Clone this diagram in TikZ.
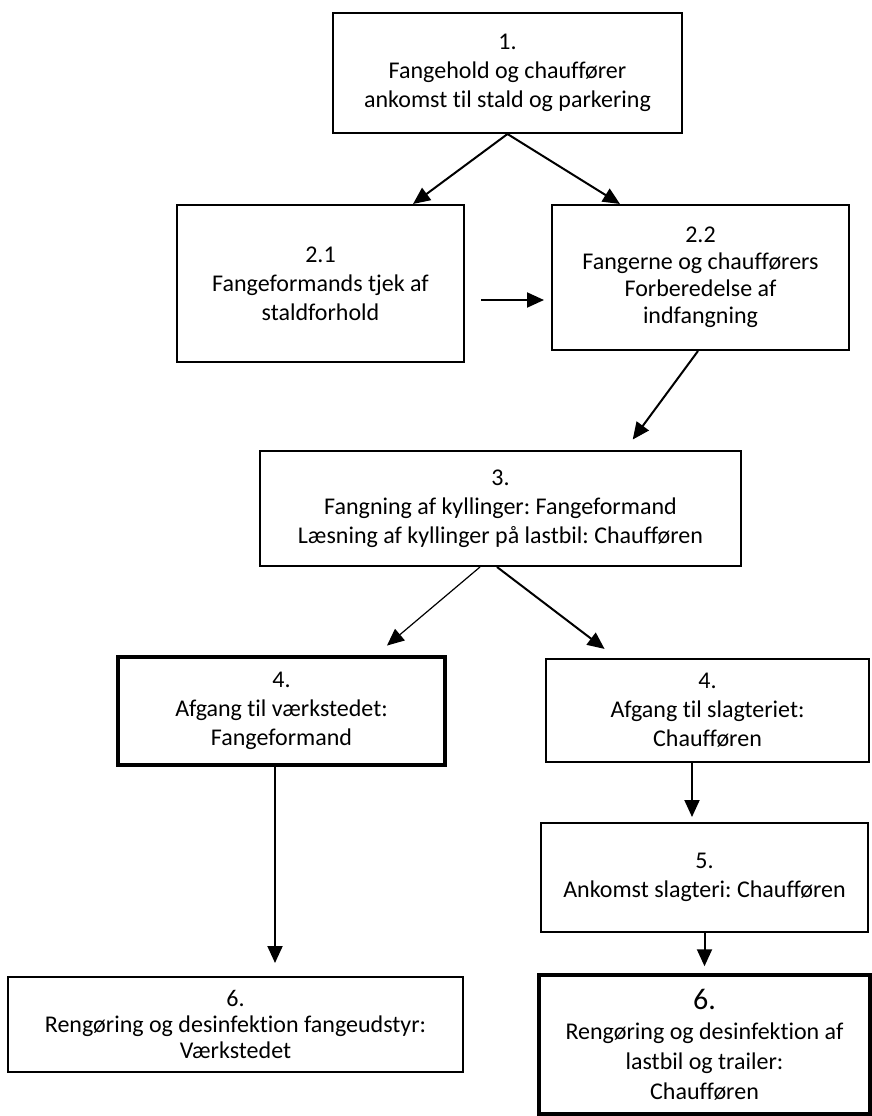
\documentclass[tikz,border=0pt]{standalone}
\usepackage{fontspec}
\setmainfont{Carlito}[Ligatures={NoCommon}]
\usetikzlibrary{arrows.meta}
\frenchspacing

\begin{document}
\begin{tikzpicture}[x=1pt, y=-1pt,
    every node/.style={font=\fontsize{24}{29}\selectfont, align=center},
    box/.style={draw, line width=2pt, inner sep=0pt},
    thickbox/.style={box, line width=3.5pt},
    arr/.style={line width=2pt, -{Triangle[length=17pt,width=15pt]}},
    thinarr/.style={arr, line width=1.2pt}]
  \useasboundingbox (0,0) rectangle (872,1116);

  \node[box, minimum width=349pt, minimum height=120pt] (b1) at (507.5,73)
    {1.\\Fangehold og chauffører\\ankomst til stald og parkering};
  \node[box, minimum width=287pt, minimum height=157pt] (b21) at (320.5,283.5)
    {2.1\\Fangeformands tjek af\\staldforhold};
  \node[box, minimum width=297pt, minimum height=145pt, font=\fontsize{24}{27}\selectfont] (b22) at (700.5,277.5)
    {2.2\\Fangerne og chaufførers\\Forberedelse af\\indfangning};
  \node[box, minimum width=481pt, minimum height=115pt] (b3) at (500.5,508.5)
    {3.\\Fangning af kyllinger: Fangeformand\\Læsning af kyllinger på lastbil: Chaufføren};
  \node[thickbox, minimum width=327pt, minimum height=108pt] (b4l) at (281.5,711)
    {4.\\Afgang til værkstedet:\\Fangeformand};
  \node[box, minimum width=323pt, minimum height=103pt] (b4r) at (707.5,710.5)
    {4.\\Afgang til slagteriet:\\Chaufføren};
  \node[box, minimum width=327pt, minimum height=109pt] (b5) at (704.5,877.5)
    {5.\\Ankomst slagteri: Chaufføren};
  \node[box, minimum width=455pt, minimum height=95pt, font=\fontsize{24}{26}\selectfont] (b6l) at (235.5,1024.5)
    {6.\\Rengøring og desinfektion fangeudstyr:\\Værkstedet};
  \node[thickbox, minimum width=331pt, minimum height=139pt, font=\fontsize{24}{30}\selectfont] (b6r) at (704.5,1044.5)
    {{\fontsize{30}{34}\selectfont 6.}\\Rengøring og desinfektion af\\lastbil og trailer:\\Chaufføren};

  \coordinate (s21) at ([yshift=-16.5pt]b21.east);
  \coordinate (s22) at ([xshift=-2.5pt]b22.south);
  \coordinate (s3l) at ([xshift=-20.5pt]b3.south);
  \coordinate (s3r) at ([xshift=-3.5pt]b3.south);
  \coordinate (s4l) at ([xshift=-6.5pt]b4l.south);
  \coordinate (s4r) at ([xshift=-15.5pt]b4r.south);

  \draw[arr] (b1.south) -- ([xshift=92.5pt]b21.north);
  \draw[arr] (b1.south) -- ([xshift=-80.5pt]b22.north);
  \draw[arr, shorten <=16pt, shorten >=7pt] (s21) -- (s21 -| b22.west);
  \draw[arr, shorten >=13pt] (s22) -- ([xshift=-117pt]b3.north east);
  \draw[thinarr, shorten >=15pt] (s3l) -- ([xshift=94pt]b4l.north);
  \draw[arr, shorten >=15pt] (s3r) -- ([xshift=-91pt]b4r.north);
  \draw[arr, shorten >=13pt] (s4l) -- (s4l |- b6l.north);
  \draw[arr, shorten >=5pt] (s4r) -- (s4r |- b5.north);
  \draw[arr, shorten >=7pt] (b5.south) -- (b5.south |- b6r.north);
\end{tikzpicture}
\end{document}
